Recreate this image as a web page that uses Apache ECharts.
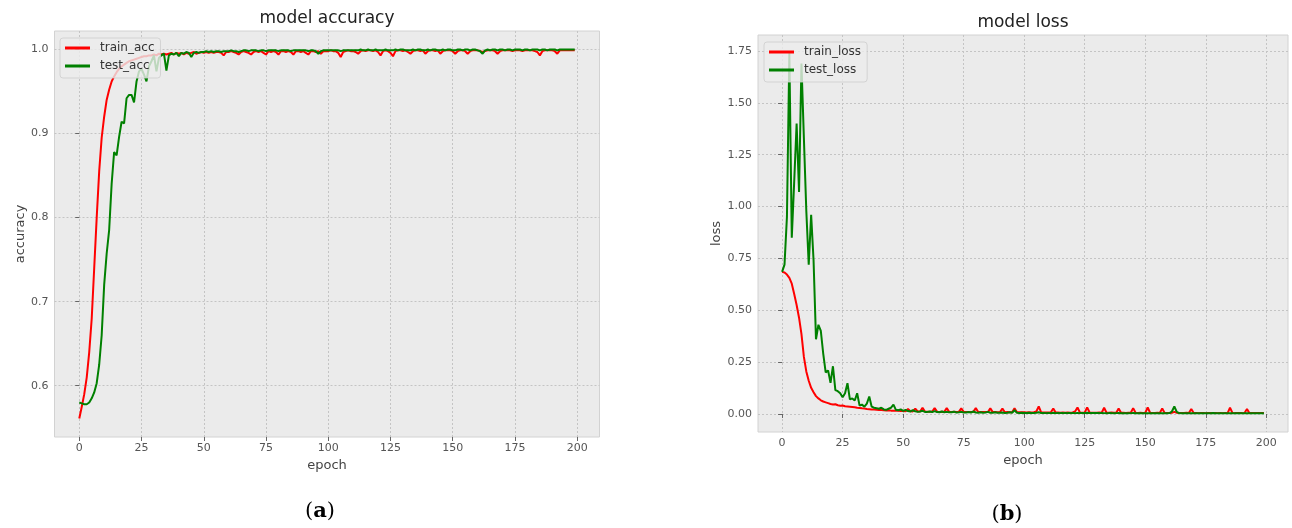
<!DOCTYPE html>
<html>
<head>
<meta charset="utf-8">
<script src="https://cdn.jsdelivr.net/npm/echarts@6/dist/echarts.min.js"></script>
<style>
html,body{margin:0;padding:0;background:#fff;}
#chart{width:1292px;height:528px;}
</style>
</head>
<body>
<div id="chart"></div>
<script>
// ---- data ----
const xTicks = [0, 25, 50, 75, 100, 125, 150, 175, 200];
const accTicks = [0.6, 0.7, 0.8, 0.9, 1.0];
const lossTicks = [0, 0.25, 0.5, 0.75, 1.0, 1.25, 1.5, 1.75];

const trainAcc = [
0.561,0.575,0.590,0.610,0.640,0.680,0.740,0.800,0.855,0.895,
0.920,0.940,0.952,0.962,0.968,0.973,0.977,0.980,0.982,0.984,
0.986,0.987,0.988,0.989,0.990,0.991,0.992,0.992,0.993,0.993,
0.994,0.993,0.995,0.994,0.995,0.994,0.995,0.996,0.994,0.996,
0.995,0.996,0.994,0.996,0.995,0.996,0.997,0.995,0.996,0.997,
0.996,0.997,0.996,0.997,0.996,0.997,0.997,0.996,0.993,0.997,
0.997,0.998,0.997,0.996,0.994,0.997,0.998,0.997,0.996,0.994,
0.997,0.998,0.997,0.998,0.996,0.994,0.998,0.997,0.998,0.997,
0.994,0.998,0.998,0.997,0.998,0.997,0.994,0.998,0.998,0.997,
0.998,0.996,0.994,0.998,0.998,0.997,0.998,0.995,0.998,0.998,
0.998,0.999,0.998,0.998,0.996,0.991,0.997,0.998,0.999,0.998,
0.998,0.997,0.995,0.998,0.999,0.998,0.999,0.999,0.998,0.999,
0.997,0.993,0.998,0.999,0.998,0.996,0.992,0.998,0.999,0.999,
0.998,0.999,0.997,0.995,0.998,0.999,0.999,0.998,0.999,0.995,
0.998,0.999,0.999,0.998,0.999,0.995,0.998,0.999,0.999,0.999,
0.998,0.995,0.998,0.999,0.999,0.998,0.995,0.998,0.999,0.999,
0.999,0.998,0.997,0.998,0.999,0.999,0.999,0.998,0.995,0.998,
0.999,0.999,0.999,0.999,0.998,0.999,0.999,0.999,0.998,0.999,
0.999,0.999,0.999,0.998,0.997,0.993,0.998,0.999,0.999,0.999,
0.999,0.998,0.995,0.999,0.999,0.999,0.999,0.999,0.999,0.999
];
const testAcc = [
0.580,0.579,0.578,0.578,0.580,0.585,0.592,0.603,0.625,0.660,
0.720,0.757,0.785,0.840,0.878,0.874,0.896,0.914,0.912,0.942,
0.946,0.946,0.937,0.962,0.974,0.977,0.970,0.962,0.980,0.986,
0.993,0.974,0.990,0.993,0.995,0.975,0.993,0.995,0.994,0.996,
0.992,0.996,0.995,0.997,0.996,0.991,0.996,0.997,0.996,0.997,
0.997,0.998,0.997,0.998,0.997,0.998,0.998,0.997,0.998,0.998,
0.998,0.999,0.998,0.998,0.997,0.998,0.999,0.999,0.998,0.999,
0.999,0.999,0.998,0.999,0.999,0.998,0.999,0.999,0.999,0.999,
0.998,0.999,0.999,0.999,0.999,0.998,0.999,0.999,0.999,0.999,
0.999,0.999,0.998,0.999,0.999,0.998,0.995,0.998,0.999,0.999,
0.999,0.999,0.999,0.999,0.999,0.998,0.999,0.999,0.999,0.999,
0.999,0.999,0.999,1.000,0.999,0.999,1.000,0.999,0.999,1.000,
0.999,0.999,0.999,1.000,0.999,0.999,0.999,1.000,0.999,1.000,
1.000,0.999,0.999,0.999,1.000,0.999,1.000,1.000,0.999,0.999,
1.000,0.999,1.000,1.000,0.999,0.999,1.000,0.999,1.000,1.000,
0.999,0.999,1.000,1.000,0.999,1.000,1.000,0.999,1.000,1.000,
0.999,0.998,0.995,0.999,1.000,0.999,1.000,1.000,0.999,1.000,
1.000,0.999,1.000,1.000,0.999,1.000,1.000,1.000,0.999,1.000,
1.000,0.999,1.000,1.000,1.000,0.999,1.000,1.000,0.999,1.000,
1.000,1.000,0.999,1.000,1.000,1.000,1.000,1.000,1.000,1.000
];
const trainLoss = [
0.685,0.682,0.672,0.656,0.628,0.578,0.525,0.464,0.385,0.275,
0.205,0.160,0.126,0.105,0.086,0.075,0.066,0.060,0.056,0.052,
0.048,0.046,0.047,0.042,0.040,0.041,0.037,0.036,0.035,0.034,
0.032,0.030,0.029,0.027,0.026,0.024,0.023,0.022,0.021,0.020,
0.019,0.019,0.018,0.017,0.018,0.016,0.016,0.015,0.015,0.014,
0.014,0.013,0.024,0.013,0.012,0.026,0.012,0.012,0.030,0.012,
0.011,0.011,0.012,0.028,0.011,0.010,0.011,0.010,0.028,0.010,
0.010,0.011,0.010,0.010,0.027,0.010,0.009,0.010,0.009,0.010,
0.028,0.009,0.009,0.010,0.009,0.009,0.027,0.009,0.009,0.008,
0.009,0.026,0.008,0.009,0.008,0.008,0.027,0.008,0.008,0.008,
0.008,0.007,0.008,0.007,0.008,0.012,0.036,0.008,0.007,0.007,
0.007,0.008,0.026,0.007,0.007,0.006,0.007,0.006,0.007,0.006,
0.007,0.012,0.031,0.007,0.006,0.007,0.032,0.007,0.006,0.006,
0.006,0.007,0.006,0.030,0.006,0.006,0.007,0.006,0.006,0.026,
0.006,0.006,0.005,0.006,0.006,0.028,0.006,0.005,0.006,0.005,
0.006,0.031,0.006,0.005,0.005,0.006,0.005,0.027,0.005,0.005,
0.005,0.006,0.010,0.006,0.005,0.005,0.005,0.006,0.005,0.024,
0.005,0.005,0.004,0.005,0.005,0.004,0.005,0.005,0.004,0.005,
0.004,0.005,0.004,0.005,0.004,0.030,0.005,0.004,0.004,0.004,
0.004,0.005,0.024,0.004,0.004,0.004,0.004,0.004,0.004,0.004
];
const testLoss = [
0.685,0.720,0.950,1.740,0.850,1.120,1.400,1.070,1.690,1.330,
0.980,0.720,0.960,0.740,0.360,0.430,0.400,0.290,0.200,0.210,
0.150,0.230,0.115,0.110,0.100,0.080,0.100,0.148,0.070,0.075,
0.065,0.100,0.040,0.045,0.035,0.050,0.084,0.035,0.030,0.028,
0.025,0.030,0.022,0.020,0.025,0.030,0.045,0.020,0.018,0.022,
0.015,0.020,0.014,0.012,0.018,0.013,0.010,0.012,0.015,0.010,
0.010,0.012,0.009,0.014,0.009,0.008,0.012,0.008,0.010,0.008,
0.008,0.011,0.007,0.008,0.010,0.007,0.007,0.009,0.007,0.012,
0.007,0.006,0.008,0.006,0.007,0.010,0.006,0.006,0.008,0.006,
0.006,0.007,0.005,0.006,0.008,0.006,0.018,0.006,0.005,0.006,
0.005,0.005,0.006,0.005,0.005,0.006,0.008,0.005,0.005,0.004,
0.005,0.004,0.006,0.004,0.005,0.004,0.004,0.005,0.004,0.004,
0.005,0.004,0.005,0.004,0.004,0.004,0.006,0.004,0.004,0.004,
0.004,0.004,0.005,0.004,0.003,0.004,0.004,0.003,0.004,0.005,
0.003,0.004,0.003,0.003,0.004,0.005,0.003,0.003,0.004,0.003,
0.003,0.004,0.003,0.003,0.004,0.003,0.003,0.004,0.003,0.003,
0.004,0.012,0.036,0.010,0.004,0.003,0.003,0.004,0.003,0.003,
0.003,0.003,0.003,0.004,0.003,0.003,0.003,0.003,0.005,0.003,
0.003,0.003,0.003,0.003,0.003,0.004,0.003,0.003,0.003,0.003,
0.003,0.003,0.004,0.003,0.003,0.003,0.003,0.003,0.003,0.003
];

// ---- chart ----
const FONT = 'DejaVu Sans';
const TXT = '#555555';
const pairs = arr => arr.map((v, i) => [i, v]);

function xAxisCfg(gridIndex, gap) {
  return {
    type: 'value', gridIndex, min: -9.95, max: 208.95,
    name: 'epoch', nameLocation: 'middle', nameGap: gap,
    nameTextStyle: { fontFamily: FONT, fontSize: 13, color: '#444' },
    axisLine: { show: false },
    axisTick: { show: true, customValues: xTicks, length: 4, lineStyle: { color: '#666' } },
    axisLabel: { customValues: xTicks, fontFamily: FONT, fontSize: 11, color: TXT, margin: 6 },
    splitLine: { show: true, lineStyle: { color: '#c4c4c4', type: [2, 2], width: 1 } }
  };
}
function yAxisCfg(gridIndex, min, max, ticks, name, gap, dec) {
  return {
    type: 'value', gridIndex, min, max,
    name, nameLocation: 'middle', nameGap: gap,
    nameTextStyle: { fontFamily: FONT, fontSize: 13, color: '#444' },
    axisLine: { show: false },
    axisTick: { show: true, customValues: ticks, length: 4, lineStyle: { color: '#666' } },
    axisLabel: { customValues: ticks, fontFamily: FONT, fontSize: 11, color: TXT, margin: 6,
      formatter: v => Number(v).toFixed(dec) },
    splitLine: { show: true, lineStyle: { color: '#c4c4c4', type: [2, 2], width: 1 } }
  };
}
function legendCfg(names, left, top) {
  return {
    data: names, orient: 'vertical', left, top,
    icon: 'rect', itemWidth: 25, itemHeight: 3, itemGap: 4,
    backgroundColor: 'rgba(236,236,236,0.8)',
    borderColor: 'rgba(205,205,205,0.8)', borderWidth: 1, borderRadius: 3,
    padding: [3, 6, 5, 5],
    textStyle: { fontFamily: FONT, fontSize: 12, color: '#333', lineHeight: 14, padding: [0, 0, 0, 5] },
    selectedMode: false
  };
}
function lineSeries(name, data, color, xi, yi) {
  return {
    name, type: 'line', data: pairs(data), xAxisIndex: xi, yAxisIndex: yi,
    showSymbol: false, symbol: 'none', smooth: false,
    lineStyle: { color, width: 2 }, itemStyle: { color },
    animation: false, z: 2
  };
}

const chart = echarts.init(document.getElementById('chart'), null, { renderer: 'canvas' });
chart.setOption({
  backgroundColor: '#ffffff',
  animation: false,
  grid: [
    { left: 54.5, top: 31, width: 545, height: 406, show: true,
      backgroundColor: '#ebebeb', borderColor: '#d2d2d2', borderWidth: 1 },
    { left: 758, top: 35, width: 530, height: 397, show: true,
      backgroundColor: '#ebebeb', borderColor: '#d2d2d2', borderWidth: 1 }
  ],
  xAxis: [xAxisCfg(0, 20), xAxisCfg(1, 21)],
  yAxis: [
    yAxisCfg(0, 0.539, 1.022, accTicks, 'accuracy', 27, 1),
    yAxisCfg(1, -0.087, 1.827, lossTicks, 'loss', 35, 2)
  ],
  legend: [
    legendCfg(['train_acc', 'test_acc'], 60, 38),
    legendCfg(['train_loss', 'test_loss'], 764, 42)
  ],
  series: [
    lineSeries('train_acc', trainAcc, '#ff0000', 0, 0),
    lineSeries('test_acc', testAcc, '#008000', 0, 0),
    lineSeries('train_loss', trainLoss, '#ff0000', 1, 1),
    lineSeries('test_loss', testLoss, '#008000', 1, 1)
  ],
  graphic: [
    { type: 'text', x: 327, y: 19, style: { text: 'model accuracy', fontFamily: FONT, fontSize: 17,
      fill: '#222', align: 'center', verticalAlign: 'middle' } },
    { type: 'text', x: 1023, y: 23, style: { text: 'model loss', fontFamily: FONT, fontSize: 17,
      fill: '#222', align: 'center', verticalAlign: 'middle' } },
    { type: 'text', x: 320, y: 512, style: { text: '{p|(}{b|a}{p|)}', align: 'center', verticalAlign: 'middle',
      rich: { p: { fontFamily: 'DejaVu Serif', fontSize: 21, fill: '#000' },
              b: { fontFamily: 'DejaVu Serif', fontSize: 21, fontWeight: 'bold', fill: '#000' } } } },
    { type: 'text', x: 1007, y: 515, style: { text: '{p|(}{b|b}{p|)}', align: 'center', verticalAlign: 'middle',
      rich: { p: { fontFamily: 'DejaVu Serif', fontSize: 21, fill: '#000' },
              b: { fontFamily: 'DejaVu Serif', fontSize: 21, fontWeight: 'bold', fill: '#000' } } } }
  ]
});
</script>
</body>
</html>
